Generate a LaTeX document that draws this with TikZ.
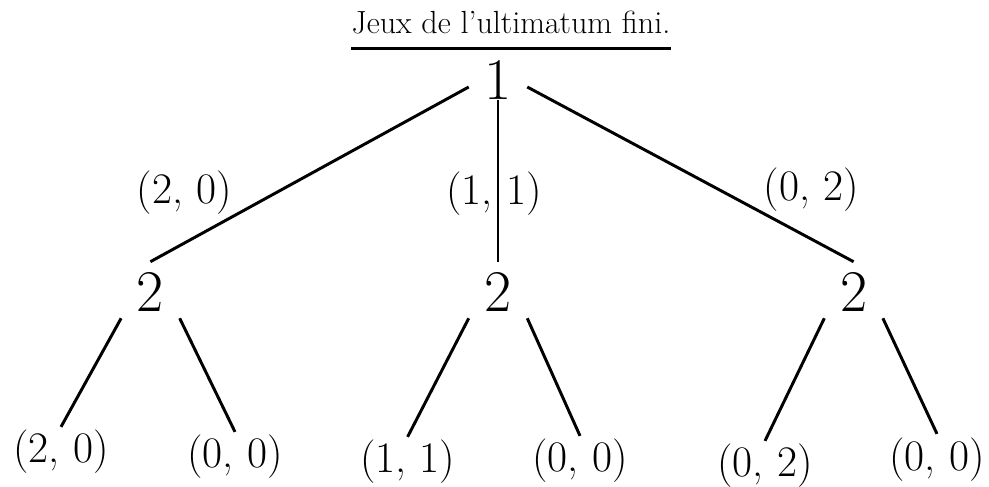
\documentclass[tikz,border=0pt]{standalone}
\usepackage{tikz}
\begin{document}
\begin{tikzpicture}[
  player/.style={inner sep=0pt,minimum width=1.45cm,anchor=base,
                 font=\fontsize{42}{42}\selectfont},
  leaf/.style={inner xsep=0pt,inner ysep=0.08cm,anchor=base,
               font=\fontsize{31}{31}\selectfont},
  offer/.style={inner sep=0pt,font=\fontsize{31}{31}\selectfont},
  edge/.style={line width=2.1pt}
]
\useasboundingbox (0,0) rectangle (24.725,12.175);
\node[anchor=base,inner sep=0pt,font=\fontsize{22.8}{26}\selectfont] (title) at (12.775,11.325) {Jeux de l’ultimatum fini.};
\draw[edge] ([yshift=-0.36cm]title.base west) -- ([yshift=-0.36cm]title.base east);

\node[player,text height=0.65cm,text depth=0pt] (p1) at (12.45,9.675) {1};
\node[player,text height=1.25cm,text depth=0.15cm] (p2a) at (3.76,4.375) {2};
\node[player,text height=1.25cm,text depth=0.15cm] (p2b) at (12.45,4.375) {2};
\node[player,text height=1.25cm,text depth=0.15cm] (p2c) at (21.34,4.375) {2};

\node[leaf] (l1) at (1.525,0.6)   {(2, 0)};
\node[leaf] (l2) at (5.875,0.475) {(0, 0)};
\node[leaf] (l3) at (10.19,0.35)  {(1, 1)};
\node[leaf] (l4) at (14.5,0.375)  {(0, 0)};
\node[leaf] (l5) at (19.125,0.25) {(0, 2)};
\node[leaf] (l6) at (23.425,0.425){(0, 0)};

\draw[edge] (p1.west)  -- node[offer,above left,pos=0.74]{(2, 0)} (p2a.north);
\draw[edge] (p1.south) -- node[offer,pos=0.58,xshift=-0.1cm]{(1, 1)} (p2b.north);
\draw[edge] (p1.east)  -- node[offer,above right,pos=0.72]{(0, 2)} (p2c.north);

\draw[edge] (p2a.south west) -- (l1.north);
\draw[edge] (p2a.south east) -- (l2.north);
\draw[edge] (p2b.south west) -- (l3.north);
\draw[edge] (p2b.south east) -- (l4.north);
\draw[edge] (p2c.south west) -- (l5.north);
\draw[edge] (p2c.south east) -- (l6.north);
\end{tikzpicture}
\end{document}
